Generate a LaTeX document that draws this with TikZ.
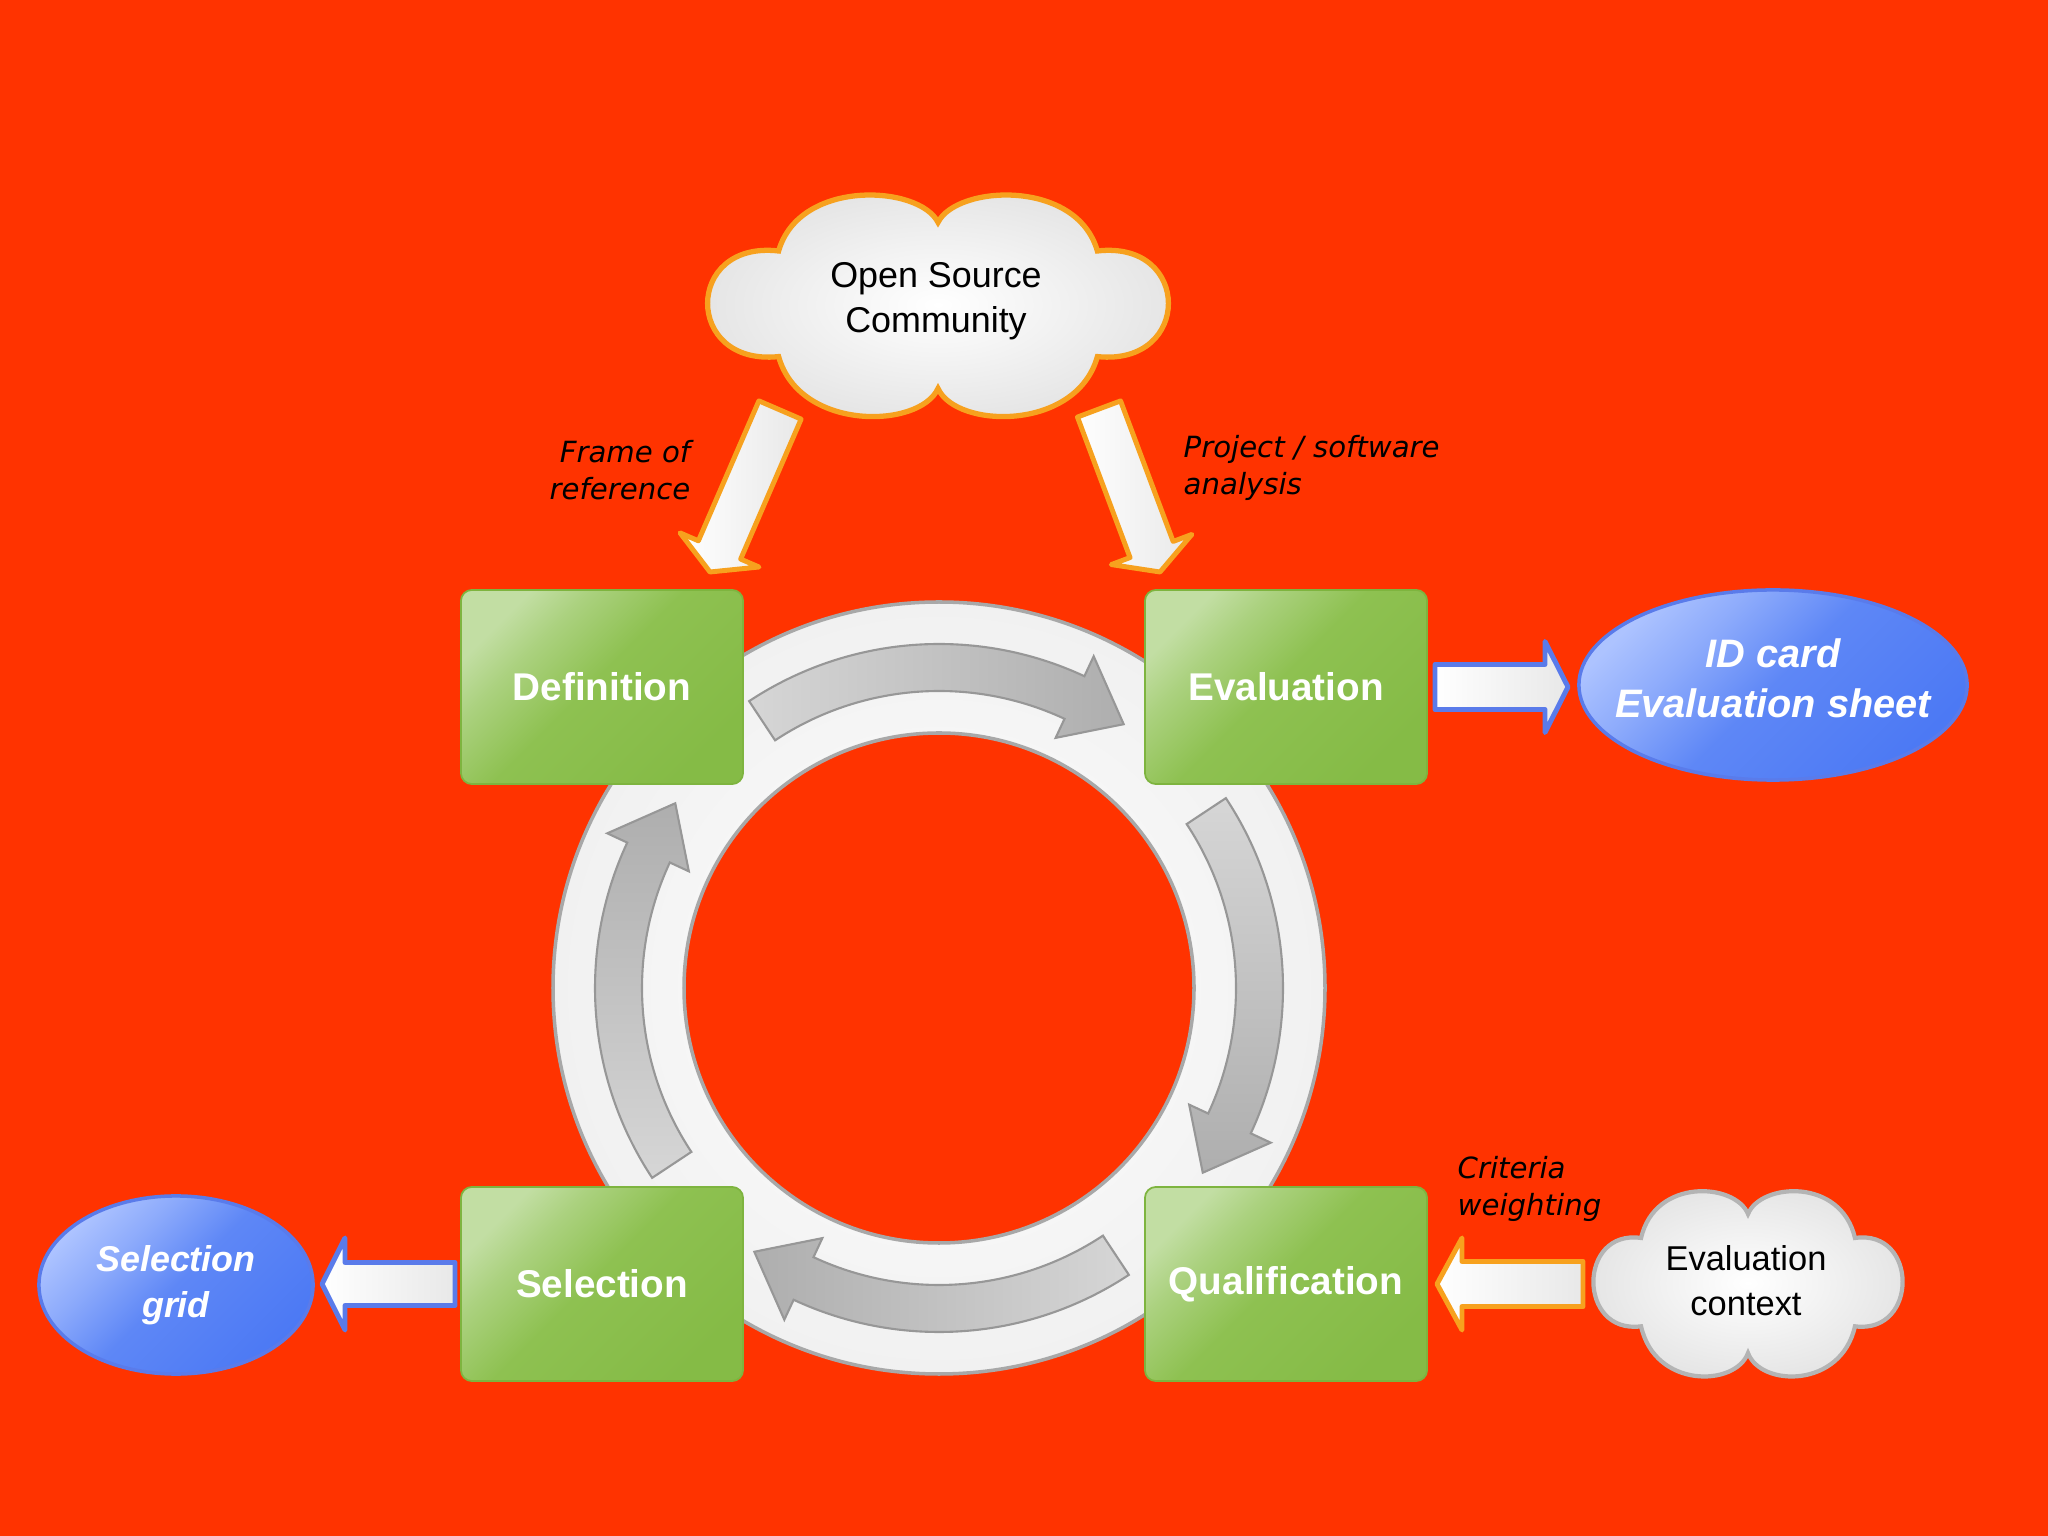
\documentclass[tikz,border=0pt]{standalone}
\usepackage{fontspec}
\setmainfont{Liberation Sans}
\newfontfamily\djv{DejaVu Sans}
\usetikzlibrary{calc,shapes.geometric}
\definecolor{bg}{HTML}{FF3300}
\definecolor{orangeb}{HTML}{F7A11E}
\definecolor{blueb}{HTML}{5A7BEA}
\definecolor{bluelight}{HTML}{ADC3FF}
\definecolor{bluemid}{HTML}{5E87F6}
\definecolor{bluedark}{HTML}{4C79F4}
\definecolor{greenlight}{HTML}{C2DEA3}
\definecolor{greenmid}{HTML}{8EC151}
\definecolor{greendark}{HTML}{85BB46}
\definecolor{greenb}{HTML}{7EB43F}
\definecolor{ringb}{HTML}{A8A8A8}
\definecolor{arrlight}{HTML}{D6D6D6}
\definecolor{arrdark}{HTML}{AEAEAE}
\definecolor{cloudgray}{HTML}{B4B4B4}
\pgfdeclareverticalshading{boxshade}{100bp}{color(0bp)=(greendark); color(25bp)=(greendark);
  color(52bp)=(greenmid); color(66bp)=(greenlight!55!greenmid); color(75bp)=(greenlight); color(100bp)=(greenlight)}
\pgfdeclareverticalshading{ovalshade}{100bp}{color(0bp)=(bluedark); color(25bp)=(bluedark);
  color(50bp)=(bluemid); color(64bp)=(bluelight!60!bluemid); color(75bp)=(bluelight); color(100bp)=(bluelight)}
\newcommand{\cloudpath}{(0,0.76) .. controls (-0.08,1.1) and (-0.6,1.16) .. (-0.69,0.5)
 .. controls (-1.1,0.6) and (-1.1,-0.55) .. (-0.69,-0.46)
 .. controls (-0.6,-1.14) and (-0.08,-1.12) .. (0,-0.75)
 .. controls (0.08,-1.12) and (0.6,-1.14) .. (0.69,-0.46)
 .. controls (1.1,-0.55) and (1.1,0.6) .. (0.69,0.5)
 .. controls (0.6,1.16) and (0.08,1.1) .. (0,0.76) -- cycle}
% style, tail, tip, shaft half width, head half width, head length
\newcommand{\blockarrow}[6]{%
  \coordinate (hb) at ($(#3)!#6!(#2)$);
  \path[#1] ($(#2)!#4!90:(#3)$) -- ($(hb)!#4!90:(#3)$) -- ($(hb)!#5!90:(#3)$) -- (#3)
    -- ($(hb)!#5!-90:(#3)$) -- ($(hb)!#4!-90:(#3)$) -- ($(#2)!#4!-90:(#3)$) -- cycle;
}
% clockwise ring arrow centred on angle #1
\newcommand{\ringarrow}[1]{%
  \pgfmathsetmacro{\ta}{#1+33.5}%
  \pgfmathsetmacro{\hbase}{#1-25}%
  \pgfmathsetmacro{\tp}{#1-35}%
  \path[ringarr, shading angle=#1] (\ta:344) arc[start angle=\ta, end angle=\hbase, radius=344]
    -- (\hbase:366) -- (\tp:322) -- (\hbase:276) -- (\hbase:297)
    arc[start angle=\hbase, end angle=\ta, radius=297] -- cycle;
}
\tikzset{
  stepbox/.style={rectangle, rounded corners=0.11cm, minimum width=2.82cm, minimum height=1.94cm,
    inner sep=0pt, draw=greenb, line width=0.5pt, shade, shading=boxshade, shading angle=45, text=white,
    font=\fontsize{11}{13}\selectfont\bfseries},
  outcome/.style={ellipse, inner sep=0pt, draw=blueb, line width=1pt, shade, shading=ovalshade,
    shading angle=45},
  outtext/.style={text=white, align=center, inner sep=0pt},
  cloudtext/.style={align=center, text=black, font=\fontsize{10.2}{12.8}\selectfont},
  label/.style={text=black, font=\djv\itshape\fontsize{8.3}{10.6}\selectfont, inner sep=0pt},
  orangearr/.style={draw=orangeb, line width=1.4pt, line join=round, left color=white, right color=gray!18},
  bluearr/.style={draw=blueb, line width=1.4pt, line join=round, left color=white, right color=gray!18},
  ringarr/.style={draw=ringb!90!black, line width=0.6pt, top color=arrlight, bottom color=arrdark},
}
\begin{document}
\begin{tikzpicture}[x=0.01cm, y=0.01cm]
  \fill[bg] (0,0) rectangle (2048,1536);
  \useasboundingbox (0,0) rectangle (2048,1536);

  % ring
  \coordinate (rc) at (939,548);
  \path[draw=ringb, line width=1pt, inner color=white, outer color=gray!11] (rc) circle[radius=386];
  \path[draw=ringb, line width=1pt, fill=bg] (rc) circle[radius=255];
  \begin{scope}[shift={(rc)}]
    \ringarrow{90}
    \ringarrow{0}
    \ringarrow{-90}
    \ringarrow{180}
  \end{scope}

  % step boxes
  \node[stepbox] (def)  at (602,849)  {Definition};
  \node[stepbox] (eval) at (1286,849) {Evaluation};
  \node[stepbox] (sel)  at (602,252)  {Selection};
  \node[stepbox] (qual) at (1286,252) {Qualification};

  % outcomes
  \node[outcome, minimum width=3.88cm, minimum height=1.9cm] (idcard) at (1773,851) {};
  \node[outtext, font=\fontsize{11.3}{14.2}\selectfont\bfseries\itshape] (idtext)
    at ($(idcard.center)+(0,7)$) {ID card\\Evaluation sheet};
  \node[outcome, minimum width=2.74cm, minimum height=1.78cm] (grid) at (176,251) {};
  \node[outtext, font=\fontsize{10.2}{13}\selectfont\bfseries\itshape] (gridtext)
    at (grid.center) {Selection\\grid};

  % clouds
  \begin{scope}[shift={(938,1230)}, xscale=231, yscale=110]
    \path[draw=orangeb, line width=1.5pt, inner color=white, outer color=gray!22] \cloudpath;
  \end{scope}
  \node[cloudtext] (osc) at (936,1235) {Open Source\\Community};
  \begin{scope}[shift={(1748,252)}, xscale=155, yscale=92]
    \path[draw=cloudgray, line width=1.2pt, inner color=white, outer color=gray!22] \cloudpath;
  \end{scope}
  \node[cloudtext, font=\fontsize{9.8}{12.8}\selectfont] (ctx) at (1746,255) {Evaluation\\context};

  % connector end points
  \coordinate (oscL) at (780,1126);
  \coordinate (defT) at (710,964);
  \coordinate (oscR) at (1099,1127);
  \coordinate (evalT) at (1160,964);
  \coordinate (evalE) at (1435,849);
  \coordinate (idW) at (1568,849);
  \coordinate (ctxW) at (1583,252);
  \coordinate (qualE) at (1437,252);
  \coordinate (selW) at (455,252);
  \coordinate (gridE) at (322,252);

  \blockarrow{orangearr}{oscL}{defT}{0.23cm}{0.43cm}{0.24cm}
  \blockarrow{orangearr}{oscR}{evalT}{0.23cm}{0.43cm}{0.24cm}
  \blockarrow{bluearr}{evalE}{idW}{0.225cm}{0.455cm}{0.23cm}
  \blockarrow{orangearr}{ctxW}{qualE}{0.225cm}{0.46cm}{0.25cm}
  \blockarrow{bluearr}{selW}{gridE}{0.215cm}{0.46cm}{0.23cm}

  % labels
  \node[label, anchor=east, align=right] (lfr) at (691,1066) {Frame of\\reference};
  \node[label, anchor=west, align=left] (lpa) at (1183,1068) {Project / software\\analysis};
  \node[label, anchor=west, align=left] (lcw) at (1457,347) {Criteria\\weighting};
\end{tikzpicture}
\end{document}
